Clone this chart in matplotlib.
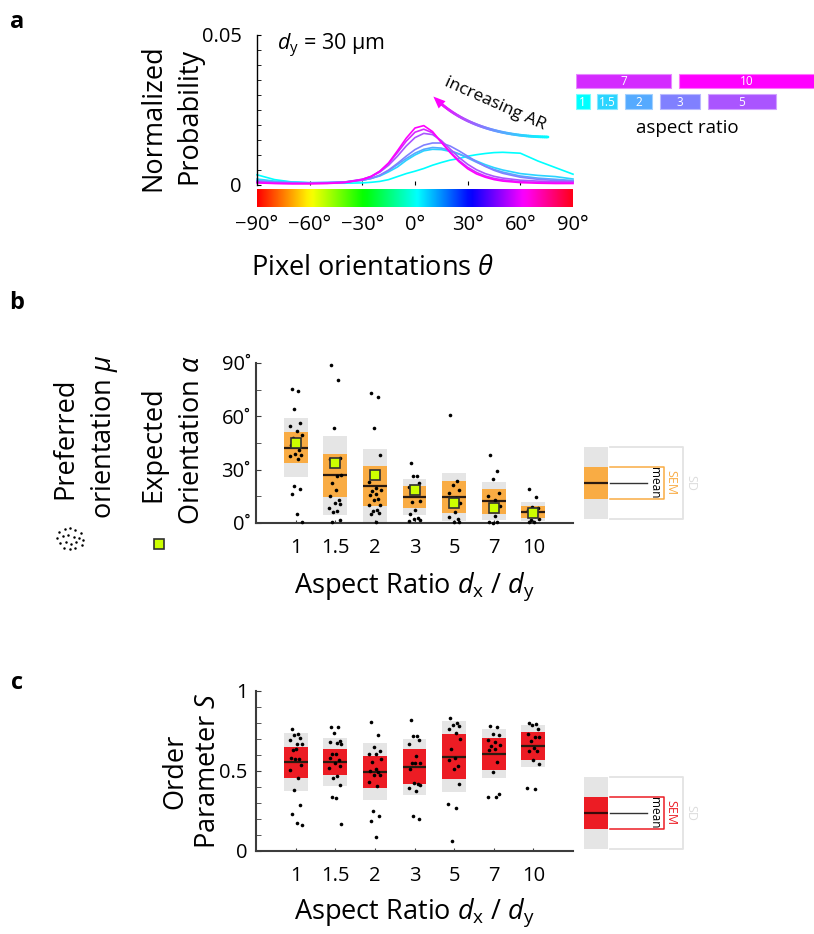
import numpy as np
import matplotlib
matplotlib.use("Agg")
import matplotlib.pyplot as plt
from matplotlib.patches import Rectangle, Polygon
from matplotlib.collections import LineCollection
from matplotlib.ticker import MultipleLocator

plt.rcParams["font.family"] = ["Open Sans", "DejaVu Sans"]
plt.rcParams["mathtext.fontset"] = "custom"
plt.rcParams["mathtext.rm"] = "Open Sans"
plt.rcParams["mathtext.it"] = "Open Sans:italic"

W, H = 814, 934

# --- panel a: orientation distributions (probability x 1e-3) ---
theta = [-90, -80, -70, -60, -50, -40, -30, -25, -20, -15, -10, -5, 0, 5, 10,
         15, 20, 25, 30, 35, 40, 45, 50, 60, 70, 80, 90]
p_ar1 = [3.4, 1.8, 1.0, 0.7, 0.6, 0.6, 0.7, 0.9, 1.2, 1.8, 2.8, 3.8, 4.6, 5.5, 6.6,
         7.5, 8.3, 8.8, 9.6, 10.1, 10.5, 10.8, 10.9, 10.6, 8.0, 5.8, 3.6]
p_ar1_5 = [2.0, 1.3, 1.0, 0.8, 0.8, 0.9, 1.6, 2.2, 3.0, 4.4, 6.0, 8.2, 10.0, 11.4, 11.9,
           11.8, 11.2, 10.3, 9.2, 8.0, 6.8, 5.8, 5.0, 3.8, 3.2, 2.8, 2.0]
p_ar2 = [1.5, 1.0, 0.8, 0.7, 0.8, 1.0, 1.6, 2.2, 3.2, 4.8, 6.8, 8.8, 10.6, 11.9, 12.5,
         12.3, 11.5, 10.4, 9.0, 7.6, 6.3, 5.2, 4.3, 3.0, 2.3, 1.9, 1.5]
p_ar3 = [1.3, 0.9, 0.7, 0.7, 0.8, 1.0, 1.6, 2.2, 3.3, 5.0, 7.2, 9.6, 11.8, 13.3, 14.0,
         14.0, 13.0, 11.4, 9.6, 7.8, 6.2, 4.9, 3.9, 2.6, 1.9, 1.5, 1.3]
p_ar5 = [1.0, 0.7, 0.6, 0.6, 0.7, 1.0, 1.9, 2.8, 4.3, 6.6, 9.6, 13.0, 15.8, 17.2, 16.8,
         14.8, 12.0, 9.2, 6.9, 5.1, 3.8, 2.9, 2.3, 1.6, 1.3, 1.1, 1.0]
p_ar7 = [0.9, 0.6, 0.5, 0.5, 0.6, 0.9, 1.9, 2.9, 4.6, 7.2, 10.8, 14.6, 17.6, 18.6, 17.4,
         14.4, 11.0, 8.2, 5.9, 4.2, 3.0, 2.2, 1.7, 1.1, 0.9, 0.8, 0.8]
p_ar10 = [0.7, 0.5, 0.4, 0.4, 0.5, 0.8, 1.8, 2.8, 4.6, 7.4, 11.4, 15.6, 19.0, 19.8, 17.8,
          14.2, 10.8, 7.8, 5.4, 3.7, 2.6, 1.8, 1.3, 0.8, 0.6, 0.5, 0.5]

aspect_ratios = [1, 1.5, 2, 3, 5, 7, 10]
ar_labels = ["1", "1.5", "2", "3", "5", "7", "10"]
ar_colors = ["#00ffff", "#2ad4ff", "#55aaff", "#8080ff", "#aa55ff", "#d42aff", "#ff00ff"]
theta_ticks = [-90, -60, -30, 0, 30, 60, 90]

# --- panel b: orientation (deg) ---
alpha_mean = [42.4, 26.8, 20.8, 14.6, 14.6, 12.2, 6.2]
alpha_sem = [8.7, 12.0, 11.5, 6.1, 8.75, 7.0, 3.5]
alpha_sd = [16.5, 22.2, 20.6, 9.9, 13.7, 10.7, 5.35]
alpha_expected = [45, 33.8, 26.8, 18.4, 11.4, 8.4, 5.8]
mu_points = [
    [75.6, 74.2, 64.3, 56.4, 54.4, 51.8, 49.7, 48.0, 46.0, 44.0, 40.9, 39.0, 38.0,
     37.5, 36.2, 20.6, 18.9, 16.3, 5.2, 0.6],
    [89.0, 80.4, 53.4, 36.8, 36.2, 26.4, 26.8, 22.5, 18.4, 15.0, 13.1, 11.3, 10.9,
     8.6, 6.75, 6.4, 1.5, 0.75],
    [73.3, 70.9, 53.3, 38.0, 23.0, 19.5, 18.6, 17.8, 16.5, 15.9, 13.7, 12.8, 10.1,
     9.9, 7.1, 6.75, 5.8, 5.0, 0.4],
    [33.9, 26.3, 26.3, 22.5, 20.0, 18.0, 12.2, 12.0, 7.1, 5.25, 3.0, 2.4, 1.9, 1.1],
    [60.6, 23.6, 21.6, 18.4, 16.9, 13.9, 11.3, 10.0, 6.0, 3.4, 2.4, 0.6, 0.6],
    [38.0, 29.0, 24.6, 16.7, 15.4, 13.1, 9.6, 8.0, 4.1, 0.6, 0.4, 0.2],
    [18.9, 14.6, 9.0, 8.6, 7.5, 3.75, 2.1, 1.7, 0.75, 0.75],
]

# --- panel c: order parameter S ---
s_mean = [0.556, 0.558, 0.494, 0.527, 0.590, 0.608, 0.656]
s_sem = [0.097, 0.081, 0.100, 0.109, 0.141, 0.099, 0.085]
s_sd = [0.184, 0.151, 0.178, 0.175, 0.220, 0.152, 0.130]
s_points = [
    [0.7625, 0.733, 0.723, 0.708, 0.696, 0.667, 0.671, 0.633, 0.64, 0.58, 0.575,
     0.573, 0.54, 0.504, 0.456, 0.379, 0.285, 0.229, 0.177, 0.1625],
    [0.775, 0.773, 0.7375, 0.69, 0.683, 0.677, 0.667, 0.608, 0.604, 0.583, 0.567,
     0.55, 0.529, 0.52, 0.467, 0.456, 0.4125, 0.34, 0.331, 0.171],
    [0.806, 0.727, 0.65, 0.625, 0.608, 0.606, 0.575, 0.554, 0.515, 0.5, 0.494,
     0.477, 0.475, 0.429, 0.404, 0.252, 0.217, 0.19, 0.09],
    [0.817, 0.719, 0.719, 0.696, 0.671, 0.592, 0.55, 0.548, 0.552, 0.51, 0.421,
     0.423, 0.41, 0.394, 0.375, 0.217, 0.198],
    [0.831, 0.8, 0.79, 0.779, 0.7625, 0.7375, 0.702, 0.64, 0.579, 0.567, 0.533,
     0.5125, 0.419, 0.296, 0.271, 0.0625],
    [0.781, 0.775, 0.733, 0.723, 0.696, 0.681, 0.665, 0.656, 0.6375, 0.629, 0.558,
     0.492, 0.356, 0.3375, 0.3375],
    [0.8, 0.796, 0.79, 0.76, 0.729, 0.7125, 0.71, 0.685, 0.642, 0.627, 0.625, 0.571,
     0.542, 0.396, 0.3875],
]

GRAY = "#e5e5e5"
ORANGE = "#f9ac44"
RED = "#ec1c24"
LIME = "#ccff00"
AXC = "#3c3c3c"
JITTER = [-0.10, 0.07, -0.03, 0.12, -0.14, 0.04, 0.15, -0.07, 0.02, -0.12,
          0.09, -0.01, 0.13, -0.15, 0.05, -0.05, 0.11, -0.09, 0.03, 0.15]

fig = plt.figure(figsize=(W / 100, H / 100), dpi=100)


def px_axes(x0, y0, x1, y1):
    return fig.add_axes([x0 / W, 1 - y1 / H, (x1 - x0) / W, (y1 - y0) / H])


def ftext(x, y, s, **kw):
    fig.text(x / W, 1 - y / H, s, **kw)


def vlabel(x, y, s, size=19.5):
    # rotated label placed by its baseline
    ftext(x, y, s, rotation=90, rotation_mode="anchor", ha="center",
          va="baseline", fontsize=size)


# ---------------- panel a ----------------
ax_a = px_axes(257, 35, 573, 185)
curves = [p_ar1, p_ar1_5, p_ar2, p_ar3, p_ar5, p_ar7, p_ar10]
for vals, col in zip(curves, ar_colors):
    ax_a.plot(theta, np.array(vals) * 1e-3, color=col, lw=1.2, clip_on=False)
ax_a.set_xlim(-90, 90)
ax_a.set_ylim(0, 0.05)
for sp in ["top", "right", "bottom"]:
    ax_a.spines[sp].set_visible(False)
ax_a.spines["left"].set_linewidth(1.0)
ax_a.set_yticks([0, 0.05])
ax_a.set_yticklabels(["0", "0.05"])
ax_a.yaxis.set_minor_locator(MultipleLocator(0.005))
ax_a.tick_params(axis="y", which="both", direction="in", length=3, labelsize=14.5, pad=11)
ax_a.set_xticks(theta_ticks[1:-1])
ax_a.tick_params(axis="x", direction="in", length=3, labelbottom=False)
ax_a.set_facecolor("none")

ax_cb = px_axes(257, 189, 573, 207)
ax_cb.imshow(np.linspace(-90, 90, 512)[None, :], cmap="hsv", aspect="auto",
             extent=[-90, 90, 0, 1])
ax_cb.set_xlim(-90, 90)
ax_cb.set_yticks([])
ax_cb.set_xticks(theta_ticks)
ax_cb.set_xticklabels([f"{t}°".replace("-", "\u2212") for t in theta_ticks])
ax_cb.tick_params(axis="x", length=0, labelsize=14.5, pad=6)
for sp in ax_cb.spines.values():
    sp.set_visible(False)

vlabel(160, 118, "Normalized")
vlabel(196, 116, "Probability")
ftext(373, 268, r"Pixel orientations $\theta$", ha="center", va="center", fontsize=19.5)
ftext(277, 50, r"$d_{\mathrm{y}}$ = 30 μm", ha="left", va="baseline", fontsize=15.5)

# aspect ratio key: bar widths scale with the aspect ratio
ax_key = px_axes(576, 70, 816, 112)
ax_key.set_xlim(0, 240 / 13.6)
ax_key.set_ylim(42, 0)
ax_key.axis("off")
rows = {1: (24, 39), 1.5: (24, 39), 2: (24, 39), 3: (24, 39), 5: (24, 39),
        7: (4, 18), 10: (4, 18)}
cursor = {4: 0.0, 24: 0.0}
for ar, lab, col in zip(aspect_ratios, ar_labels, ar_colors):
    top, bot = rows[ar]
    x0 = cursor[top]
    ax_key.add_patch(Rectangle((x0, top), ar, bot - top, fc=col,
                               ec=matplotlib.colors.to_hex(
                                   0.55 * np.array(matplotlib.colors.to_rgb(col)) + 0.45),
                               lw=0.8))
    ax_key.text(x0 + ar / 2, (top + bot) / 2 + 0.5, lab, color="white", ha="center",
                va="center", fontsize=8.5)
    cursor[top] = x0 + ar + 0.55
ftext(687, 128, "aspect ratio", ha="center", va="center", fontsize=13.5)

# ---------------- box panels ----------------
def box_panel(ax, mean, sem, sd, pts, col):
    for i in range(len(mean)):
        x = i + 1
        ax.add_patch(Rectangle((x - 0.3, mean[i] - sd[i]), 0.6, 2 * sd[i], fc=GRAY,
                               ec="none", zorder=1))
        ax.add_patch(Rectangle((x - 0.3, mean[i] - sem[i]), 0.6, 2 * sem[i], fc=col,
                               ec="none", zorder=2))
        ax.plot([x - 0.3, x + 0.3], [mean[i], mean[i]], color="#2a1a10", lw=1.6,
                zorder=3, solid_capstyle="butt")
        jx = [x + JITTER[k % len(JITTER)] for k in range(len(pts[i]))]
        ax.plot(jx, pts[i], "o", ms=2.6, color="black", mec="none", zorder=5,
                clip_on=False)
    ax.set_xlim(0, 8)
    ax.set_xticks(range(1, 8))
    ax.set_xticklabels(ar_labels)
    for sp in ["top", "right"]:
        ax.spines[sp].set_visible(False)
    for sp in ["left", "bottom"]:
        ax.spines[sp].set_color(AXC)
        ax.spines[sp].set_linewidth(1.5)
    ax.tick_params(axis="x", direction="in", length=2.5, color=AXC, labelsize=14.5, pad=11)
    ax.tick_params(axis="y", which="both", direction="in", length=3.5, color=AXC,
                   labelsize=14.5)


ax_b = px_axes(256, 363, 573, 523)
box_panel(ax_b, alpha_mean, alpha_sem, alpha_sd, mu_points, ORANGE)
ax_b.plot(range(1, 8), alpha_expected, "s", ms=7.5, mfc=LIME, mec="#303030", mew=1.2,
          zorder=6)
ax_b.set_ylim(0, 90)
ax_b.set_yticks([0, 30, 60, 90])
ax_b.set_yticklabels(["0˚", "30˚", "60˚", "90˚"])
ax_b.yaxis.set_minor_locator(MultipleLocator(15))
ax_b.tick_params(axis="y", pad=4)

ax_c = px_axes(256, 691, 573, 851)
box_panel(ax_c, s_mean, s_sem, s_sd, s_points, RED)
ax_c.set_ylim(0, 1)
ax_c.set_yticks([0, 0.5, 1])
ax_c.set_yticklabels(["0", "0.5", "1"])
ax_c.yaxis.set_minor_locator(MultipleLocator(0.1))
ax_c.tick_params(axis="y", pad=6)

ftext(414, 587, r"Aspect Ratio $d_{\mathrm{x}}$ / $d_{\mathrm{y}}$", ha="center",
      va="center", fontsize=19.5)
ftext(414, 913, r"Aspect Ratio $d_{\mathrm{x}}$ / $d_{\mathrm{y}}$", ha="center",
      va="center", fontsize=19.5)

vlabel(72, 438, "Preferred")
vlabel(111, 437, r"orientation $\mu$")
vlabel(160, 444, "Expected")
vlabel(199, 440, r"Orientation $\alpha$")
vlabel(182, 771, "Order")
vlabel(215, 771, "Parameter $S$")

for letter, (lx, ly) in zip("abc", [(17, 22), (17, 303), (17, 683)]):
    ftext(lx, ly, letter, ha="center", va="center", fontsize=17, fontweight="bold")

# ---------------- overlay: arrow, keys ----------------
ov = px_axes(0, 0, W, H)
ov.set_xlim(0, W)
ov.set_ylim(H, 0)
ov.axis("off")

# gradient arrow for increasing aspect ratio
p0, p1, p2 = np.array([548, 137]), np.array([475, 136]), np.array([437, 100])
t = np.linspace(0, 1, 80)[:, None]
path = (1 - t) ** 2 * p0 + 2 * (1 - t) * t * p1 + t ** 2 * p2
segs = np.stack([path[:-1], path[1:]], axis=1)
grad = matplotlib.colors.LinearSegmentedColormap.from_list(
    "ar", ["#00ffff", "#8080ff", "#ff00ff"])
ov.add_collection(LineCollection(segs, colors=grad(np.linspace(0, 1, len(segs))),
                                 linewidths=2.0, capstyle="round"))
d = (p2 - p1) / np.linalg.norm(p2 - p1)
tip = p2 + 5 * d
base = tip - 12 * d
perp = np.array([-d[1], d[0]])
ov.add_patch(Polygon([tip, base + 5 * perp, base - 5 * perp], closed=True,
                     fc="#ff00ff", ec="none"))
ov.text(495, 104, "increasing AR", rotation=-24, ha="center", va="center",
        fontsize=12.5, rotation_mode="anchor")

# legend of the preferred / expected orientation markers
cloud = [(-12, -6), (-6, -9), (0, -10), (6, -8), (12, -5), (-14, 0), (-8, -2),
         (-2, -3), (4, -1), (10, 0), (14, 2), (-11, 5), (-5, 4), (1, 6), (7, 4),
         (13, 7), (-7, 10), (0, 11), (6, 10)]
ov.plot([70 + cx * 0.9 for cx, cy in cloud], [538 + cy for cx, cy in cloud], "o",
        ms=1.8, color="black", mec="none")
ov.plot([159], [544], "s", ms=7.5, mfc=LIME, mec="#303030", mew=1.2)


def stat_key(yc, col, dark):
    ov.add_patch(Rectangle((584, yc - 36), 24, 72, fc=GRAY, ec="none"))
    ov.add_patch(Rectangle((584, yc - 16), 24, 32, fc=col, ec="none"))
    ov.plot([584, 608], [yc, yc], color=dark, lw=1.6, solid_capstyle="butt")
    ov.plot([610, 647], [yc, yc], color="#333333", lw=1.0)
    ov.plot([610, 664, 664, 610], [yc - 16, yc - 16, yc + 16, yc + 16], color=col, lw=1.1)
    ov.plot([610, 683, 683, 610], [yc - 36, yc - 36, yc + 36, yc + 36], color="#e3e3e3",
            lw=1.3)
    ov.text(654, yc, "mean", rotation=-90, ha="center", va="center", fontsize=8.5)
    ov.text(671, yc, "SEM", rotation=-90, ha="center", va="center", fontsize=9, color=col)
    ov.text(691, yc, "SD", rotation=-90, ha="center", va="center", fontsize=9,
            color="#dcdcdc")


stat_key(483, ORANGE, "#2a1a10")
stat_key(813, RED, "#3a0a0a")

fig.savefig("out.png", dpi=100)
